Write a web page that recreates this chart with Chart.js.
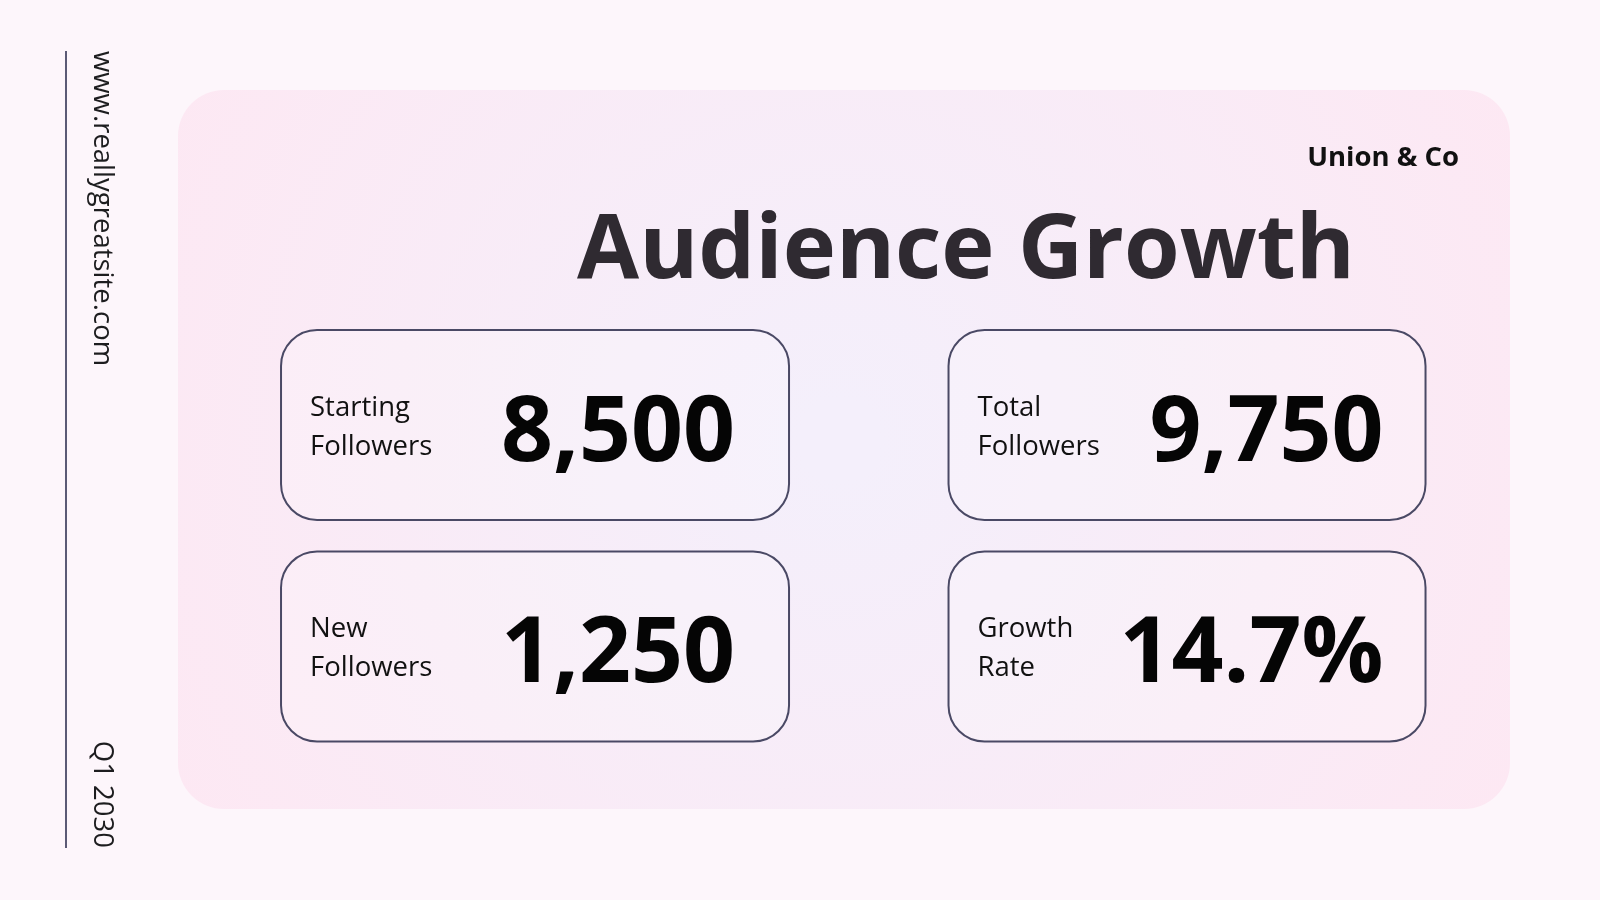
<!DOCTYPE html>
<html>
<head>
<meta charset="utf-8">
<script src="https://cdn.jsdelivr.net/npm/chart.js@4"></script>
<style>
  html, body { margin: 0; padding: 0; background: #fdf6fb; }
  #wrap { width: 1600px; height: 900px; }
</style>
</head>
<body>
<div id="wrap"><canvas id="board" width="1600" height="900"></canvas></div>
<script>
  // tile data, in reading order (row by row)
  const metricNames = [['Starting', 'Followers'], ['Total', 'Followers'], ['New', 'Followers'], ['Growth', 'Rate']];
  const metricValues = [8500, 9750, 1250, 14.7];
  const metricSuffix = ['', '', '', '%'];
  const metricDecimals = [0, 0, 0, 1];

  const title = 'Audience Growth';
  const brand = 'Union & Co';
  const site = 'www.reallygreatsite.com';
  const period = 'Q1 2030';

  const FONT = '"Open Sans", "Noto Sans", sans-serif';
  const fmt = (v, i) => v.toLocaleString('en-US', { minimumFractionDigits: metricDecimals[i], maximumFractionDigits: metricDecimals[i] }) + metricSuffix[i];

  function roundRect(ctx, x, y, w, h, r) {
    ctx.beginPath();
    ctx.moveTo(x + r, y);
    ctx.arcTo(x + w, y, x + w, y + h, r);
    ctx.arcTo(x + w, y + h, x, y + h, r);
    ctx.arcTo(x, y + h, x, y, r);
    ctx.arcTo(x, y, x + w, y, r);
    ctx.closePath();
  }

  // slide background, side rule, vertical texts and headings
  const backdrop = {
    id: 'backdrop',
    beforeDraw(chart) {
      const ctx = chart.ctx;
      ctx.save();
      ctx.fillStyle = '#fdf6fb';
      ctx.fillRect(0, 0, chart.width, chart.height);

      const g = ctx.createRadialGradient(840, 440, 40, 840, 440, 760);
      g.addColorStop(0, '#f4effb');
      g.addColorStop(1, '#fde8f3');
      roundRect(ctx, 178, 90, 1332, 719, 46);
      ctx.fillStyle = g;
      ctx.fill();

      ctx.strokeStyle = '#5b5a75';
      ctx.lineWidth = 2;
      ctx.beginPath();
      ctx.moveTo(66, 51);
      ctx.lineTo(66, 848);
      ctx.stroke();

      ctx.fillStyle = '#1d1d1f';
      ctx.font = '400 27.5px ' + FONT;
      ctx.textBaseline = 'alphabetic';
      ctx.save();
      ctx.translate(94, 51);
      ctx.rotate(Math.PI / 2);
      ctx.textAlign = 'left';
      ctx.fillText(site, 0, 0);
      ctx.restore();
      ctx.save();
      ctx.translate(94, 848);
      ctx.rotate(Math.PI / 2);
      ctx.textAlign = 'right';
      ctx.fillText(period, 0, 0);
      ctx.restore();

      ctx.textAlign = 'right';
      ctx.font = '700 27.5px ' + FONT;
      ctx.fillStyle = '#111';
      ctx.fillText(brand, 1459, 166);

      ctx.textAlign = 'center';
      ctx.font = '700 90px ' + FONT;
      ctx.fillStyle = '#2f2a31';
      ctx.fillText(title, 966, 278);
      ctx.restore();
    }
  };

  // one rounded tile per metric: column from the x scale, row from the y scale
  const tiles = {
    id: 'tiles',
    afterDatasetsDraw(chart) {
      const ctx = chart.ctx;
      const xs = chart.scales.x;
      const ys = chart.scales.y;
      ctx.save();
      metricValues.forEach((v, i) => {
        const col = i % 2, row = Math.floor(i / 2);
        const cx = xs.getPixelForValue(col);
        const cy = ys.getPixelForValue(row);
        const w = col === 0 ? 508 : 477;
        const h = 190;
        const x = cx - w / 2, y = cy - h / 2;
        roundRect(ctx, x, y, w, h, 36);
        ctx.fillStyle = 'rgba(255,255,255,0.22)';
        ctx.fill();
        ctx.strokeStyle = '#4a4965';
        ctx.lineWidth = 2;
        ctx.stroke();

        ctx.fillStyle = '#111';
        ctx.textAlign = 'left';
        ctx.textBaseline = 'alphabetic';
        ctx.font = '400 27.5px ' + FONT;
        metricNames[i].forEach((t, k) => ctx.fillText(t, x + 29, cy - 9 + k * 39));

        ctx.textAlign = 'right';
        ctx.font = '700 91px ' + FONT;
        ctx.fillStyle = '#050505';
        ctx.fillText(fmt(v, i), x + w - (col === 0 ? 54 : 42), cy + 36);
      });
      ctx.restore();
    }
  };

  new Chart(document.getElementById('board'), {
    type: 'bar',
    data: {
      labels: ['left', 'right'],
      datasets: [{ data: [], backgroundColor: 'transparent' }]
    },
    options: {
      responsive: false,
      animation: false,
      devicePixelRatio: 1,
      layout: { padding: 0 },
      plugins: { legend: { display: false }, tooltip: { enabled: false } },
      scales: {
        x: { type: 'linear', offset: false, min: -0.8206, max: 1.6334, display: false },
        y: { type: 'linear', offset: false, min: -1.9187, max: 2.1445, reverse: true, display: false }
      }
    },
    plugins: [backdrop, tiles]
  });
</script>
</body>
</html>
